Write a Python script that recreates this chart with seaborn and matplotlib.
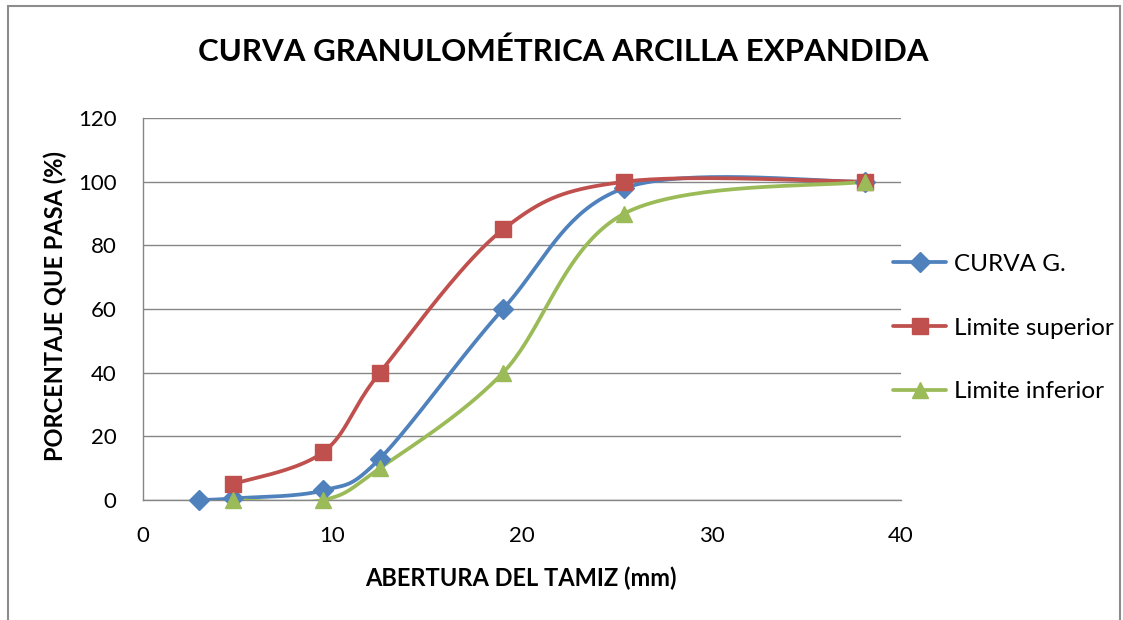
import numpy as np
import seaborn as sns
import matplotlib.pyplot as plt
from matplotlib.lines import Line2D
from matplotlib.patches import Rectangle

# sieve openings (mm) and percent passing
x_curva = [2.95, 4.75, 9.5, 12.5, 19.0, 25.4, 38.1]
y_curva = [0, 0.5, 3, 13, 60, 98, 100]
x_lim = [4.75, 9.5, 12.5, 19.0, 25.4, 38.1]
y_sup = [5, 15, 40, 85, 100, 100]
y_inf = [0, 0, 10, 40, 90, 100]

series = [
    ("CURVA G.", x_curva, y_curva, "#4F81BD", "D", 10.5),
    ("Limite superior", x_lim, y_sup, "#C0504D", "s", 12),
    ("Limite inferior", x_lim, y_inf, "#9BBB59", "^", 12),
]

sns.set_style("white")
plt.rcParams['font.family'] = ['Lato', 'DejaVu Sans']
plt.rcParams['text.color'] = 'black'
plt.rcParams['xtick.color'] = 'black'
plt.rcParams['ytick.color'] = 'black'

fig = plt.figure(figsize=(11.23, 6.2), dpi=100)
ax = fig.add_axes([0.1273, 0.1935, 0.675, 0.6161])
ax.set_xlim(0, 40)
ax.set_ylim(0, 120)


def excel_smooth(xs, ys, n=40):
    # Excel-like smoothing (Catmull-Rom Bezier), computed in screen space
    pts = ax.transData.transform(np.column_stack([xs, ys]))
    p = np.vstack([pts[0], pts, pts[-1]])
    out = []
    for i in range(1, len(p) - 2):
        p0, p1, p2, p3 = p[i - 1], p[i], p[i + 1], p[i + 2]
        c1 = p1 + (p2 - p0) / 6
        c2 = p2 - (p3 - p1) / 6
        t = np.linspace(0, 1, n)[:, None]
        seg = ((1 - t) ** 3) * p1 + 3 * ((1 - t) ** 2) * t * c1 + 3 * (1 - t) * t ** 2 * c2 + t ** 3 * p2
        out.append(seg if i == 1 else seg[1:])
    out = np.vstack(out)
    return ax.transData.inverted().transform(out)


handles = []
for name, xs, ys, col, mk, ms in series:
    sm = excel_smooth(xs, ys)
    sns.lineplot(x=sm[:, 0], y=sm[:, 1], sort=False, estimator=None, color=col,
                 linewidth=2.7, ax=ax, zorder=3)
    ax.plot(xs, ys, linestyle="none", marker=mk, markersize=ms, color=col,
            markeredgecolor=col, zorder=4, clip_on=False)
    handles.append(Line2D([0], [0], color=col, linewidth=2.7, marker=mk,
                          markersize=ms, markeredgecolor=col))

ax.set_xticks([0, 10, 20, 30, 40])
ax.set_yticks(range(0, 121, 20))
ax.yaxis.grid(True, color="#868686", linewidth=1)
ax.xaxis.grid(False)
ax.tick_params(axis="both", length=0, labelsize=16, pad=19)
for s in ["top", "right"]:
    ax.spines[s].set_visible(False)
for s in ["left", "bottom"]:
    ax.spines[s].set_color("#868686")
    ax.spines[s].set_linewidth(1)

ax.set_xlabel("")
ax.set_ylabel("")
fig.text(0.502, 0.917, "CURVA GRANULOMÉTRICA ARCILLA EXPANDIDA", ha="center",
         va="center", fontsize=22.5, fontweight="bold")
fig.text(0.464, 0.068, "ABERTURA DEL TAMIZ (mm)", ha="center", va="center",
         fontsize=17, fontweight="bold")
fig.text(0.049, 0.506, "PORCENTAJE QUE PASA (%)", ha="center", va="center",
         fontsize=17, fontweight="bold", rotation=90)

fig.legend(handles, [s[0] for s in series], loc="center left",
           bbox_to_anchor=(893 / 1123, 1 - 328 / 620), frameon=False,
           fontsize=17.5, labelspacing=1.75, handlelength=2.2, handletextpad=0.3,
           borderpad=0, borderaxespad=0)

fig.patches.append(Rectangle((8 / 1123, -0.05), 1112 / 1123, 1.05 - 6 / 620,
                             transform=fig.transFigure, fill=False,
                             edgecolor="#8c8c8c", linewidth=1.5))

fig.savefig("out.png", dpi=100)
